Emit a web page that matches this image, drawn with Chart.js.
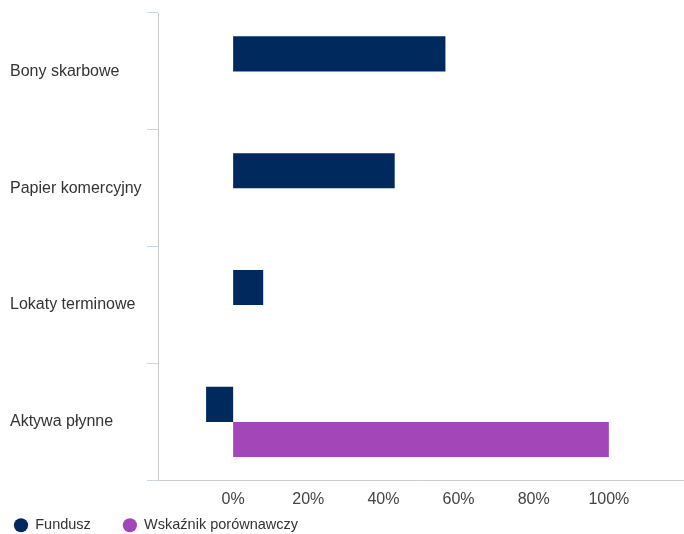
<!DOCTYPE html>
<html>
<head>
<meta charset="utf-8">
<script src="https://cdn.jsdelivr.net/npm/chart.js@4"></script>
<style>
  html, body { margin: 0; padding: 0; background: #fff; }
  #wrap { width: 684px; height: 534px; }
</style>
</head>
<body>
<div id="wrap"><canvas id="allocChart"></canvas></div>
<script>
const categories = ['Bony skarbowe', 'Papier komercyjny', 'Lokaty terminowe', 'Aktywa płynne'];
const funduszValues = [56.5, 43, 8, -7.2];
const benchmarkValues = [null, null, null, 100];
const tickValues = [0, 20, 40, 60, 80, 100];

const chartCanvas = document.getElementById('allocChart');
const FONT = "'Liberation Sans', Arial, sans-serif";

// legend sits lower-left with wide gaps between items
const legendShift = {
  id: 'legendShift',
  afterLayout(chart) {
    chart.legend.left = -18;
    chart.legend.top = 486;
  }
};

new Chart(chartCanvas, {
  type: 'bar',
  data: {
    labels: categories,
    datasets: [
      {
        label: 'Fundusz',
        data: funduszValues,
        backgroundColor: '#002a5e'
      },
      {
        label: 'Wskaźnik porównawczy',
        data: benchmarkValues,
        backgroundColor: '#a346b8'
      }
    ]
  },
  plugins: [legendShift],
  options: {
    indexAxis: 'y',
    responsive: true,
    maintainAspectRatio: false,
    animation: false,
    layout: { padding: { left: 10, top: 13, right: 0, bottom: -42 } },
    datasets: {
      bar: { categoryPercentage: 0.6, barPercentage: 1 }
    },
    scales: {
      x: {
        min: -20,
        max: 120,
        grid: { display: false, drawTicks: false },
        border: { display: true, color: '#cccccc', width: 1 },
        ticks: {
          stepSize: 20,
          padding: 10,
          color: '#444444',
          font: { family: FONT, size: 16 },
          callback: (v) => tickValues.includes(v) ? v + '%' : ''
        },
        afterFit: (scale) => { scale.paddingLeft = 0; scale.paddingRight = 0; }
      },
      y: {
        grid: {
          drawOnChartArea: false,
          offset: true,
          tickLength: 11,
          tickColor: '#c9d6ea'
        },
        border: { display: true, color: '#cccccc', width: 1 },
        ticks: {
          crossAlign: 'far',
          color: '#333333',
          font: { family: FONT, size: 16 }
        },
        afterFit: (scale) => { scale.width = 148; }
      }
    },
    plugins: {
      tooltip: { enabled: false },
      legend: {
        position: 'bottom',
        align: 'start',
        labels: {
          usePointStyle: true,
          pointStyle: 'circle',
          boxWidth: 14,
          boxHeight: 10,
          padding: 32,
          color: '#333333',
          font: { family: FONT, size: 14.5 }
        }
      }
    }
  }
});
</script>
</body>
</html>
